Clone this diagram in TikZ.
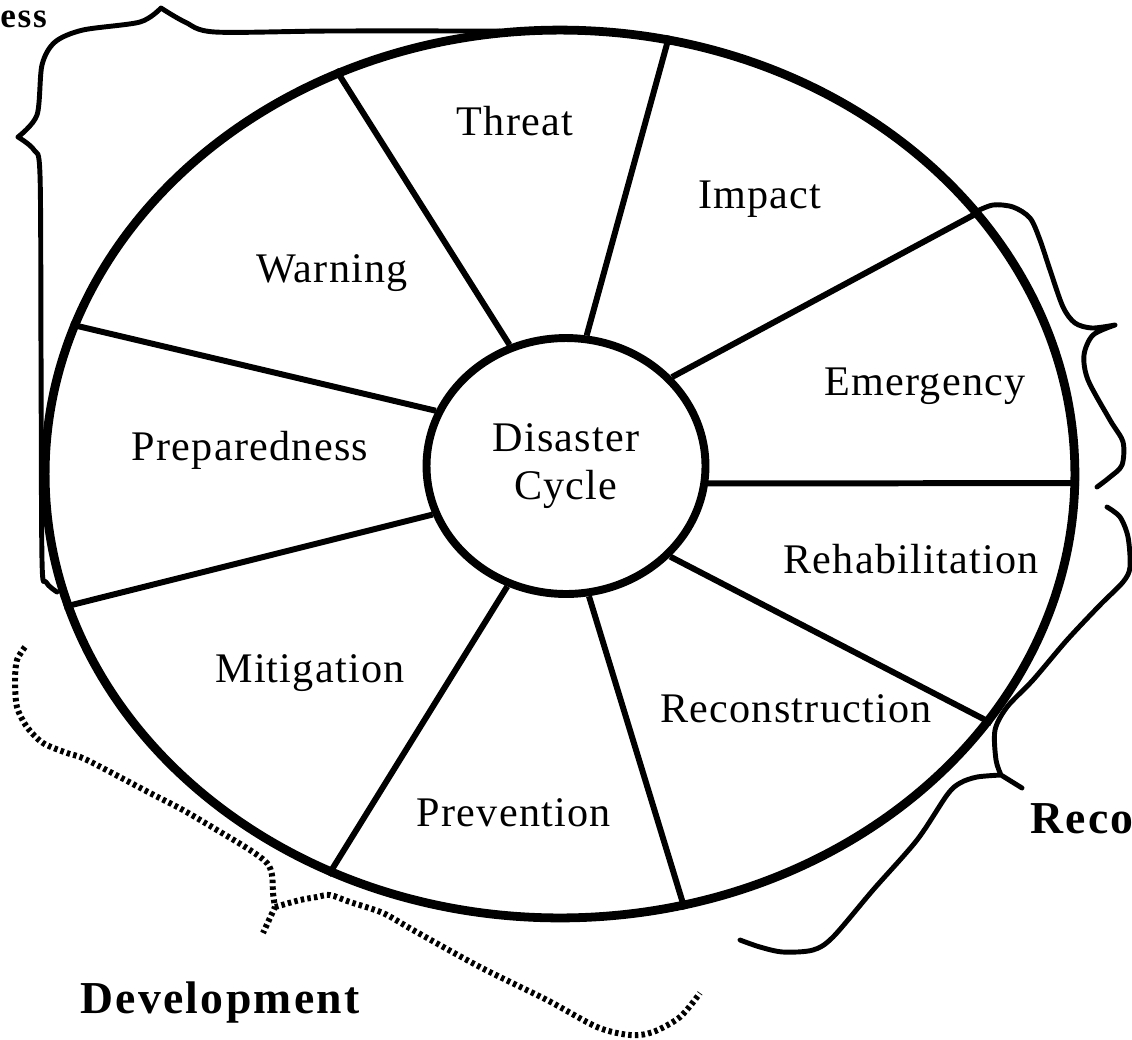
\documentclass[tikz,border=0pt]{standalone}
\usepackage{fontspec}
\setmainfont{Liberation Serif}[LetterSpace=3]
\newfontfamily\groupfont{Liberation Serif}[LetterSpace=5]
\usetikzlibrary{shapes.geometric}

\begin{document}
\begin{tikzpicture}[
        x=0.02cm, y=-0.02cm,
        ring/.style={
                ellipse,
                draw,
                line width=5pt,
                inner sep=0pt,
                minimum width=20.6cm,
                minimum height=17.76cm
            },
        hub/.style={
                ellipse,
                draw,
                line width=4.5pt,
                inner sep=0pt,
                align=center,
                minimum width=5.58cm,
                minimum height=5.12cm,
                font=\fontsize{24}{27}\selectfont
            },
        spoke/.style = {line width=3.4pt},
        phase/.style = {anchor=base, font=\fontsize{24}{28}\selectfont},
        group/.style = {anchor=base west, inner sep=0pt, font=\fontsize{26}{30}\groupfont\bfseries},
        brace/.style = {line width=2.8pt, line join=round, line cap=round},
        dotbrace/.style = {line width=3.4pt, line join=round, dash pattern=on 2pt off 1.8pt}
    ]
    \useasboundingbox (0,0) rectangle (1132,1039);

    \node[ring] (ring) at (560,474) {};
    \node[hub] (hub) at (566,466) {Disaster\\Cycle};

    \draw[spoke] (hub.115) -- (ring.119);
    \draw[spoke] (hub.81)  -- (ring.76);
    \draw[spoke] (hub.40)  -- (ring.32);
    \draw[spoke] (hub.-7)  -- (ring.-1);
    \draw[spoke] (hub.-41) -- (ring.-30);
    \draw[spoke] (hub.-80) -- (ring.-74);
    \draw[spoke] (hub.-116) -- (ring.-120);
    \draw[spoke] (hub.200) -- (ring.195);
    \draw[spoke] (hub.157) -- (ring.163);

    \node[phase] (threat) at (515,135) {Threat};
    \node[phase] (impact) at (760,208) {Impact};
    \node[phase] (warning) at (332,282) {Warning};
    \node[phase] (emergency) at (925,395) {Emergency};
    \node[phase] (preparedness) at (250,460) {Preparedness};
    \node[phase] (rehab) at (911,573) {Rehabilitation};
    \node[phase] (mitigation) at (310,682) {Mitigation};
    \node[phase] (reconstruction) at (796,722) {Reconstruction};
    \node[phase] (prevention) at (514,826) {Prevention};

    \node[group,font=\fontsize{20}{24}\groupfont\bfseries] (readiness) at (0,27) {ess};
    \node[group] (recovery) at (1030,833) {Reco};
    \node[group,anchor=base] (development) at (220,1013) {Development};

    % readiness brace
    \draw[brace] plot[smooth] coordinates {(500,31) (330,31) (215,32) (185,22) (161,8)}
        plot[smooth] coordinates {(161,8) (140,22) (83,30) (55,42) (42,65) (37,115) (18,137)}
        plot[smooth] coordinates {(18,137) (34,150) (40,175) (41,350) (42,560) (46,582) (57,592)};
    % response brace
    \draw[brace] plot[smooth] coordinates {(975,212) (993,205) (1013,207) (1030,218) (1040,240) (1050,270) (1063,307) (1075,323) (1092,328) (1115,325)}
        plot[smooth] coordinates {(1115,325) (1093,335) (1084,355) (1088,380) (1110,420) (1123,442) (1122,465) (1110,477) (1097,487)};
    % recovery brace
    \draw[brace] plot[smooth] coordinates {(1107,507) (1120,517) (1128,537) (1130,567) (1123,582) (1100,605) (1067,640) (1033,680) (1007,707) (995,730) (996,760) (1001,775)}
        -- (1022,788)
        plot[smooth] coordinates {(1001,775) (977,777) (960,783) (947,795) (917,840) (873,890) (833,937) (813,950) (783,952) (760,947) (740,940)};
    % development brace
    \draw[dotbrace] plot[smooth] coordinates {(25,647) (17,660) (15,680) (17,707) (27,727) (43,743) (67,753) (87,760) (150,793) (183,810) (217,830) (250,850) (267,863) (272,875) (273,893) (275,907)}
        -- (263,933)
        plot[smooth] coordinates {(275,907) (300,900) (317,897) (330,895) (350,902) (383,913) (413,930) (480,967) (547,1000) (597,1027) (630,1035) (653,1032) (680,1017) (700,993)};
\end{tikzpicture}
\end{document}
